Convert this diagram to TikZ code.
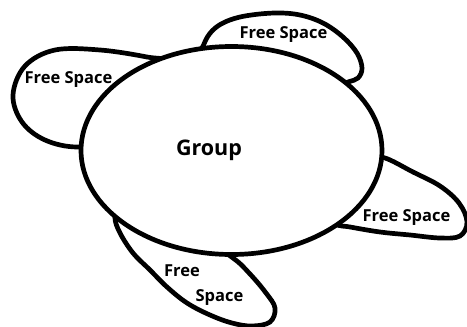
\documentclass[tikz,border=0pt]{standalone}
\usepackage{fontspec}
\setmainfont{Open Sans}
\usepackage{tikz}
\usetikzlibrary{shapes.geometric}
\tikzset{
  blob/.style={draw=black, fill=white, line width=4.7pt},
  fslabel/.style={anchor=base, inner sep=0pt, font=\fontsize{16.5}{19}\selectfont\bfseries},
}

\begin{document}
\begin{tikzpicture}[x=1pt, y=-1pt]
  \useasboundingbox (0,0) rectangle (467,327);
  \draw[blob] plot[smooth cycle, tension=0.6] coordinates {(200,62) (204,44) (212,31) (225,22) (245,16) (275,13) (300,15) (323,23) (343,37) (357,53) (362,68) (358,78) (348,82) (330,88) (290,80) (240,72)};
  \draw[blob] plot[smooth cycle, tension=0.6] coordinates {(172,64) (147,57) (100,50) (55,50) (25,66) (13,95) (22,122) (45,140) (78,147) (120,140) (165,100)};
  \draw[blob] plot[smooth cycle, tension=0.6] coordinates {(385,158) (413,172) (440,186) (459,203) (467,222) (460,236) (440,238) (410,235) (380,232) (350,227) (335,224) (310,210) (340,175) (372,160)};
  \draw[blob] plot[smooth cycle, tension=0.6] coordinates {(115,218) (120,233) (133,253) (150,270) (167,287) (187,303) (210,315) (232,323) (252,326) (270,322) (275,308) (266,293) (250,274) (233,258) (200,238) (140,215) (120,208)};
  \node[blob, ellipse, inner sep=0pt, minimum width=301pt, minimum height=208pt] (group) at (231.5,150.5) {};
  \node[anchor=base, inner sep=0pt, font=\fontsize{21.5}{25}\selectfont\bfseries] (grouptext) at (209,155) {Group};
  \node[fslabel] (toptext) at (283.5,38) {Free Space};
  \node[fslabel] (lefttext) at (68.5,83.3) {Free Space};
  \node[fslabel] (righttext) at (406.5,221.7) {Free Space};
  \node[fslabel] (bottomfree) at (182,276) {Free};
  \node[fslabel] (bottomspc) at (219.5,301.7) {Space};
\end{tikzpicture}
\end{document}
